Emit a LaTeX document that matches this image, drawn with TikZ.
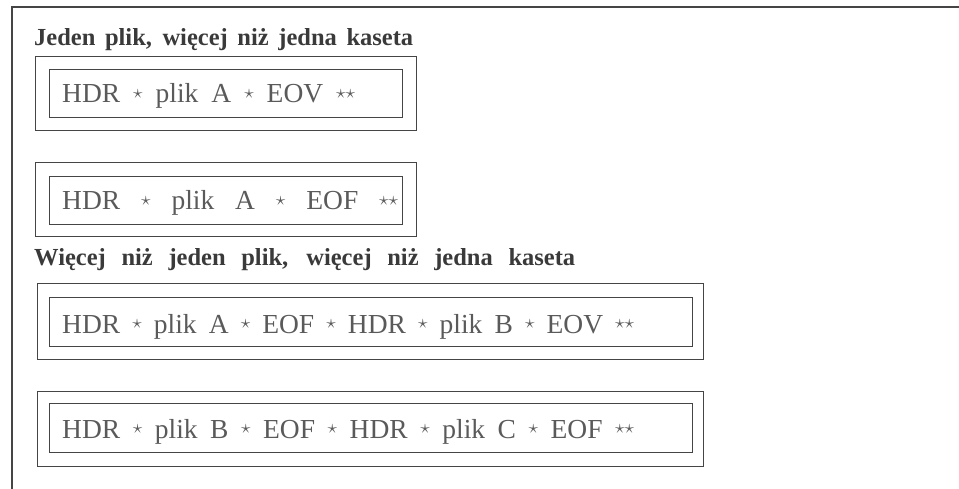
\documentclass[tikz,border=0pt]{standalone}
\usepackage{fontspec}
\setmainfont{Liberation Serif}
\usepackage{graphicx}
\definecolor{ink}{HTML}{3A3A3A}
\definecolor{print}{HTML}{5A5A5A}
\definecolor{rule}{HTML}{454545}
% small raised star used as a record separator
\newcommand{\st}{\raisebox{4.2pt}{\scalebox{0.78}{$\star$}}}
\tikzset{
  frameline/.style={draw=rule, line width=1.1pt},
  outerbox/.style={frameline, rectangle, anchor=north west, inner sep=0pt},
  innerbox/.style={frameline, rectangle, anchor=north west, inner sep=0pt},
  heading/.style={anchor=base west, inner sep=0pt, text=ink, font=\fontsize{24.5}{25}\selectfont\bfseries},
  record/.style={anchor=base west, inner sep=0pt, text=print, font=\fontsize{27.5}{28}\selectfont},
}
\begin{document}
\begin{tikzpicture}[x=1pt, y=-1pt]
\useasboundingbox (0,0) rectangle (959,489);
% open page frame: top and left rules only
\coordinate (ftl) at (12,7);
\coordinate (ftr) at (959,7);
\coordinate (fbl) at (12,489);
\draw[frameline] (ftr) -- (ftl) -- (fbl);

% headings
\node[heading] (h1) at (34,46) {\makebox[379pt][s]{Jeden plik, więcej niż jedna kaseta}};
\node[heading] (h2) at (34,266) {\makebox[541pt][s]{Więcej niż jeden plik, więcej niż jedna kaseta}};

% single file across two cassettes
\node[outerbox, minimum width=381pt, minimum height=74pt] (o1) at (35,56) {};
\node[innerbox, minimum width=353pt, minimum height=48pt] (i1) at (49,69) {};
\node[record] (t1) at (62,103) {\makebox[293pt][s]{HDR \st{} plik A \st{} EOV \st\st}};

\node[outerbox, minimum width=381pt, minimum height=74pt] (o2) at (35,162) {};
\node[innerbox, minimum width=353pt, minimum height=48pt] (i2) at (49,176) {};
\node[record] (t2) at (62,210) {\makebox[336pt][s]{HDR \st{} plik A \st{} EOF \st\st}};

% several files across two cassettes
\node[outerbox, minimum width=666pt, minimum height=76pt] (o3) at (37,283) {};
\node[innerbox, minimum width=643pt, minimum height=49pt] (i3) at (49,297) {};
\node[record] (t3) at (62,333) {\makebox[572pt][s]{HDR \st{} plik A \st{} EOF \st{} HDR \st{} plik B \st{} EOV \st\st}};

\node[outerbox, minimum width=666pt, minimum height=75pt] (o4) at (37,391) {};
\node[innerbox, minimum width=643pt, minimum height=49pt] (i4) at (49,403) {};
\node[record] (t4) at (62,438) {\makebox[572pt][s]{HDR \st{} plik B \st{} EOF \st{} HDR \st{} plik C \st{} EOF \st\st}};
\end{tikzpicture}
\end{document}
